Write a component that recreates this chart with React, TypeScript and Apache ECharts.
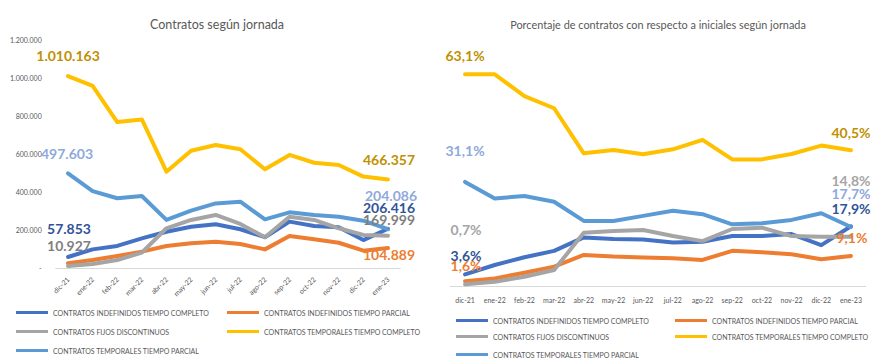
import React, { useEffect, useRef } from "react";
import * as echarts from "echarts";

const categories = ["dic-21", "ene-22", "feb-22", "mar-22", "abr-22", "may-22", "jun-22", "jul-22", "ago-22", "sep-22", "oct-22", "nov-22", "dic-22", "ene-23"];

const seriesNames = [
  "CONTRATOS INDEFINIDOS TIEMPO COMPLETO",
  "CONTRATOS INDEFINIDOS TIEMPO PARCIAL",
  "CONTRATOS FIJOS DISCONTINUOS",
  "CONTRATOS TEMPORALES TIEMPO COMPLETO",
  "CONTRATOS TEMPORALES TIEMPO PARCIAL",
];

// Left chart: absolute number of contracts
const indefCompleto = [57853, 98000, 116000, 156000, 191000, 217000, 230000, 204000, 162000, 244000, 221000, 214000, 147000, 206416];
const indefParcial = [25000, 42000, 63000, 86000, 116000, 130000, 138000, 126000, 98000, 168000, 151000, 133000, 91000, 104889];
const fijosDisc = [10927, 21000, 42000, 81000, 209000, 253000, 279000, 232000, 162000, 270000, 253000, 209000, 174000, 169999];
const tempCompleto = [1010163, 958000, 768000, 782000, 507000, 617000, 647000, 625000, 520000, 595000, 554000, 542000, 481000, 466357];
const tempParcial = [497603, 405000, 367000, 379000, 253000, 302000, 340000, 349000, 256000, 293000, 279000, 270000, 249000, 204086];

// Right chart: percentage relative to initial contracts
const pIndefCompleto = [3.6, 6.4, 8.7, 10.6, 14.6, 14.1, 14.0, 13.1, 13.3, 15.0, 15.0, 15.6, 12.3, 17.9];
const pIndefParcial = [1.6, 2.4, 4.1, 5.9, 9.4, 8.9, 8.6, 8.4, 7.9, 10.6, 10.2, 9.6, 8.1, 9.1];
const pFijos = [0.7, 1.4, 2.9, 4.9, 16.0, 16.5, 16.8, 15.0, 13.5, 17.1, 17.5, 15.0, 14.8, 14.8];
const pTempCompleto = [63.1, 63.1, 56.6, 53.0, 39.6, 40.6, 39.3, 40.8, 43.6, 37.8, 37.8, 39.4, 41.9, 40.5];
const pTempParcial = [31.1, 26.2, 26.9, 25.2, 19.5, 19.5, 21.0, 22.5, 21.5, 18.5, 18.8, 19.8, 21.8, 17.7];

const leftTicks = { min: 0, max: 1200000, interval: 200000 };

const lineColors = ["#4472C4", "#ED7D31", "#A5A5A5", "#FFC000", "#5B9BD5"];
const leftLabelColors = ["#2F5597", "#ED7D31", "#7F7F7F", "#BF9000", "#8EA9DB"];
const rightLabelColors = ["#2F5597", "#ED7D31", "#A5A5A5", "#BF9000", "#8EA9DB"];

const FONT = "Lato, 'Liberation Sans', sans-serif";
const GREY_TEXT = "#595959";

function fmtThousands(v: number): string {
  if (v === 0) return "-";
  return Math.round(v).toString().replace(/\B(?=(\d{3})+(?!\d))/g, ".");
}
function fmtPct(v: number): string {
  return v.toFixed(1).replace(".", ",") + "%";
}

// label offsets (style): index -> [dx, dy] from point centre
const leftLabelOffsets: Record<number, [number, number]>[] = [
  { 0: [1, -29], 13: [1, -21] },
  { 13: [1, 6] },
  { 0: [1, -20], 13: [1, -16] },
  { 0: [0, -21], 13: [1, -20] },
  { 0: [-1, -20], 13: [3, -34] },
];
const rightLabelOffsets: Record<number, [number, number]>[] = [
  { 0: [1, -19], 13: [0, -18] },
  { 0: [1, -16], 13: [1, -18] },
  { 0: [1, -55], 13: [0, -56] },
  { 0: [0, -19], 13: [0, -18] },
  { 0: [0, -31], 13: [0, -33] },
];

function buildSeries(
  name: string,
  values: number[],
  idx: number,
  axisIndex: number,
  offsets: Record<number, [number, number]>,
  labelColor: string,
  fmt: (v: number) => string
) {
  return {
    name,
    type: "line",
    xAxisIndex: axisIndex,
    yAxisIndex: axisIndex,
    symbol: "circle",
    symbolSize: 1,
    showSymbol: true,
    showAllSymbol: true,
    smooth: false,
    lineStyle: { width: 4, color: lineColors[idx], cap: "round", join: "round" },
    itemStyle: { color: lineColors[idx] },
    emphasis: { disabled: true },
    data: values.map((v, i) =>
      offsets[i]
        ? {
            value: v,
            label: {
              show: true,
              position: "inside",
              offset: offsets[i],
              formatter: () => fmt(v),
              color: labelColor,
              fontSize: 14,
              fontWeight: "bold",
              fontFamily: FONT,
            },
          }
        : v
    ),
  };
}

function buildLegends(positions: [number, number][]) {
  return seriesNames.map((name, i) => ({
    data: [{ name, icon: "rect", itemStyle: { color: lineColors[i] } }],
    left: positions[i][0],
    top: positions[i][1] - 5,
    padding: 0,
    itemWidth: 32,
    itemHeight: 3,
    itemGap: 5,
    selectedMode: false,
    textStyle: { fontSize: 7, color: GREY_TEXT, fontFamily: FONT },
  }));
}

export default function App() {
  const ref = useRef<HTMLDivElement>(null);

  useEffect(() => {
    if (!ref.current) return;
    const chart = echarts.init(ref.current, null, { renderer: "svg" });

    const leftData = [indefCompleto, indefParcial, fijosDisc, tempCompleto, tempParcial];
    const rightData = [pIndefCompleto, pIndefParcial, pFijos, pTempCompleto, pTempParcial];

    const option: any = {
      animation: false,
      backgroundColor: "#ffffff",
      graphic: [
        {
          type: "text",
          x: 217,
          y: 24,
          style: {
            text: "Contratos según jornada",
            align: "center",
            verticalAlign: "middle",
            textAlign: "center",
            textVerticalAlign: "middle",
            fontSize: 12.5,
            fontFamily: FONT,
            fill: GREY_TEXT,
          },
        },
        {
          type: "text",
          x: 658,
          y: 24,
          style: {
            text: "Porcentaje de contratos con respecto a iniciales según jornada",
            align: "center",
            verticalAlign: "middle",
            textAlign: "center",
            textVerticalAlign: "middle",
            fontSize: 10.9,
            fontFamily: FONT,
            fill: GREY_TEXT,
          },
        },
      ],
      legend: [
        ...buildLegends([
          [16, 314],
          [227, 314],
          [16, 333],
          [227, 333],
          [16, 352],
        ]),
        ...buildLegends([
          [456, 322],
          [675, 322],
          [456, 338],
          [675, 338],
          [456, 356],
        ]),
      ],
      grid: [
        { left: 55.7, top: 40, width: 344.6, height: 228, containLabel: false },
        { left: 450.2, top: 51.1, width: 415.6, height: 235.4, containLabel: false },
      ],
      xAxis: [
        {
          type: "category",
          gridIndex: 0,
          data: categories,
          boundaryGap: true,
          axisLine: { lineStyle: { color: "#D9D9D9", width: 1 } },
          axisTick: { show: false },
          axisLabel: { rotate: 45, fontSize: 7, color: GREY_TEXT, fontFamily: FONT, margin: 10, interval: 0 },
          splitLine: { show: false },
        },
        {
          type: "category",
          gridIndex: 1,
          data: categories,
          boundaryGap: true,
          axisLine: { lineStyle: { color: "#D9D9D9", width: 1 } },
          axisTick: { show: false },
          axisLabel: { fontSize: 7, color: GREY_TEXT, fontFamily: FONT, margin: 10, interval: 0 },
          splitLine: { show: false },
        },
      ],
      yAxis: [
        {
          type: "value",
          gridIndex: 0,
          min: leftTicks.min,
          max: leftTicks.max,
          interval: leftTicks.interval,
          axisLine: { show: false },
          axisTick: { show: false },
          splitLine: { show: false },
          axisLabel: { fontSize: 7, color: GREY_TEXT, fontFamily: FONT, margin: 14, formatter: (v: number) => fmtThousands(v) },
        },
        {
          type: "value",
          gridIndex: 1,
          min: 0,
          max: 70,
          show: false,
          splitLine: { show: false },
        },
      ],
      series: [
        ...seriesNames.map((n, i) => buildSeries(n, leftData[i], i, 0, leftLabelOffsets[i], leftLabelColors[i], fmtThousands)),
        ...seriesNames.map((n, i) => buildSeries(n, rightData[i], i, 1, rightLabelOffsets[i], rightLabelColors[i], fmtPct)),
      ],
    };

    chart.setOption(option);
    return () => chart.dispose();
  }, []);

  return (
    <div
      ref={ref}
      style={{ position: "absolute", left: 0, top: 0, width: 887, height: 364, background: "#fff" }}
    />
  );
}
